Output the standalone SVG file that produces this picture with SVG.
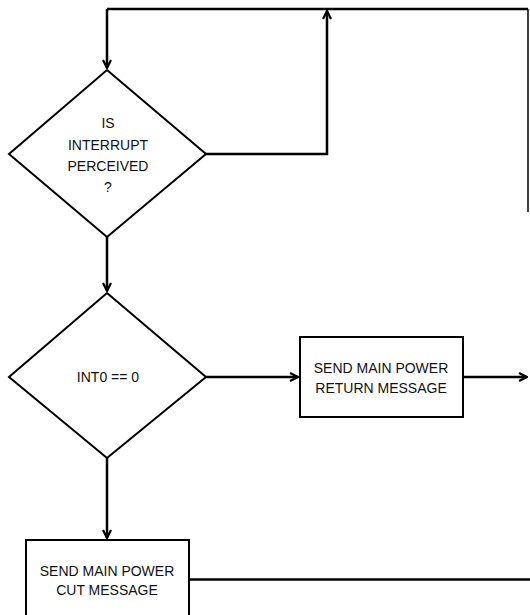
<svg xmlns="http://www.w3.org/2000/svg" width="530" height="615" viewBox="0 0 530 615">
<style>
.shape{fill:#fff;stroke:#000;stroke-width:2}
.line{fill:none;stroke:#000;stroke-width:2.5}
.thin{fill:none;stroke:#000;stroke-width:1.5}
text{font-family:"Liberation Sans",Arial,sans-serif;font-size:14px;fill:#111;text-anchor:middle}
</style>
<defs>
<marker id="arr" viewBox="0 0 10 10" refX="9" refY="5" markerWidth="4" markerHeight="4" orient="auto" markerUnits="strokeWidth">
<path d="M1,1 L9,5 L1,9" fill="none" stroke="#000" stroke-width="2.2"/>
</marker>
</defs>
<g id="connectors">
<path class="line" d="M206,154 H327 V11" marker-end="url(#arr)"/>
<path class="line" d="M107,9 H528"/>
<path class="line" d="M107,9 V68" marker-end="url(#arr)"/>
<path class="thin" d="M528,9 V212"/>
<path class="line" d="M107,237 V291" marker-end="url(#arr)"/>
<path class="line" d="M206,377 H298" marker-end="url(#arr)"/>
<path class="line" d="M463,377 H527" marker-end="url(#arr)"/>
<path class="line" d="M107,458 V538" marker-end="url(#arr)"/>
<path class="line" d="M189,579.5 H530"/>
</g>
<g id="decision1">
<polygon class="shape" points="107,70 206,154 107,237 9,154"/>
<text x="108" y="128">IS</text>
<text x="108" y="150">INTERRUPT</text>
<text x="108" y="171">PERCEIVED</text>
<text x="108" y="192">?</text>
</g>
<g id="decision2">
<polygon class="shape" points="107,293 206,377 107,458 9,377"/>
<text x="108" y="382">INT0 == 0</text>
</g>
<g id="returnMsg">
<rect class="shape" x="300" y="337" width="163" height="80"/>
<text x="381" y="373">SEND MAIN POWER</text>
<text x="381" y="393">RETURN MESSAGE</text>
</g>
<g id="cutMsg">
<rect class="shape" x="26" y="540" width="163" height="85"/>
<text x="107" y="576">SEND MAIN POWER</text>
<text x="107" y="595">CUT MESSAGE</text>
</g>
</svg>
